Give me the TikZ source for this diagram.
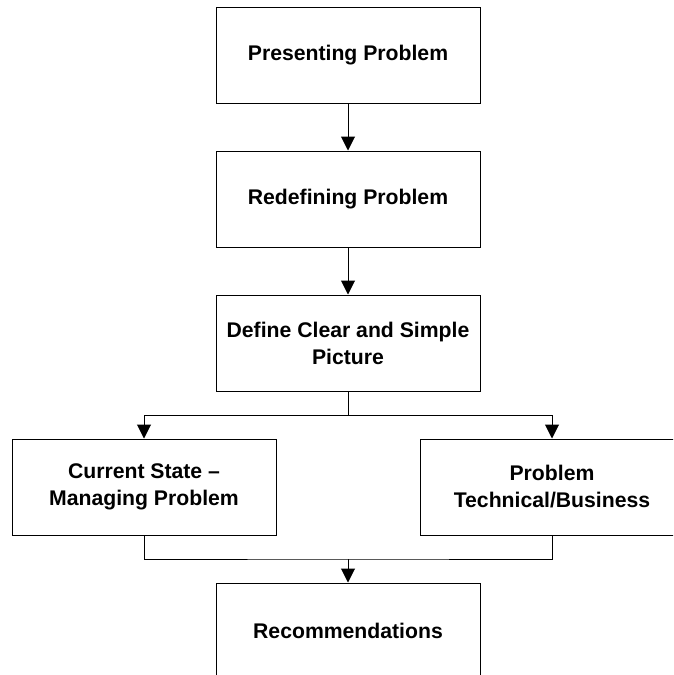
\documentclass[tikz,border=0pt]{standalone}
\usepackage{fontspec}
\setmainfont{Liberation Sans}
\usetikzlibrary{arrows.meta}

\begin{document}
\begin{tikzpicture}[x=1pt,y=-1pt,
    stage/.style={draw, line width=1pt, minimum width=264pt, minimum height=96pt,
        inner sep=0pt, align=center, font=\bfseries\fontsize{21.2}{27}\selectfont},
    flow/.style={line width=1pt, -{Triangle[width=14pt,length=14pt]}},
    link/.style={line width=1pt}]

\useasboundingbox (0,0) rectangle (673,675);
\clip (0,0) rectangle (673,675);

      \node[stage] (present)   at (348,55)  {Presenting Problem};
      \node[stage] (redefine)  at (348,199) {Redefining Problem};
      \node[stage] (picture)   at (348,343) {Define Clear and Simple\\Picture};
      \node[stage] (current)   at (144,487) {Current State --\\Managing Problem};
      \node[stage] (technical) at (552,487) {Problem\\Technical/Business};
      \node[stage] (recommend) at (348,631) {Recommendations};
      \coordinate (split) at (348,415);
      \coordinate (merge) at (348,559);

 \draw[flow] (present) -- (redefine);
 \draw[flow] (redefine) -- (picture);
 \draw[link] (picture) -- (split);
 \draw[flow] (split) -| (current);
 \draw[flow] (split) -| (technical);
 \draw[link] (current) |- (merge) -| (technical);
 \draw[flow] (merge) -- (recommend);

\end{tikzpicture}
\end{document}
